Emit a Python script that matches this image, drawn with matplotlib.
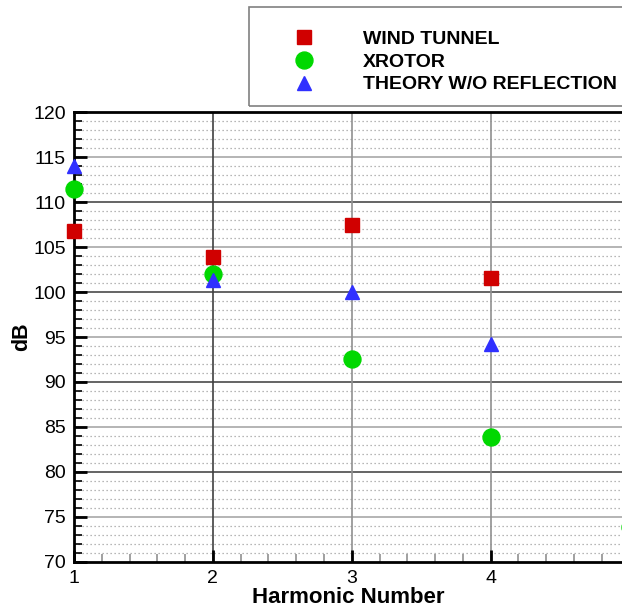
import matplotlib
matplotlib.use("Agg")
import matplotlib.pyplot as plt
from matplotlib.patches import Rectangle
from matplotlib.ticker import MultipleLocator

plt.rcParams["font.family"] = ["Liberation Sans", "DejaVu Sans"]

# ----------------------------------------------------------
# data
# ----------------------------------------------------------
harmonics = [1, 2, 3, 4]
wind_tunnel_db = [106.8, 103.9, 107.5, 101.6]

xrotor_harmonics = [1, 2, 3, 4, 5]
xrotor_db = [111.5, 102.0, 92.5, 83.9, 73.9]

theory_db = [114.0, 101.3, 100.0, 94.2]

series_labels = ["WIND TUNNEL", "XROTOR", "THEORY W/O REFLECTION"]

W, H = 622, 607
fig = plt.figure(figsize=(W / 100, H / 100), dpi=100)

left, bottom, top = 74, 561.7, 112.3
ax = fig.add_axes([left / W, 1 - bottom / H, 1 - left / W, (bottom - top) / H])

ax.set_xlim(1, 1 + (W - left) / 138.9)
ax.set_ylim(70, 120)

# grid
for y in range(71, 120):
    if y % 5:
        ax.axhline(y, color="#a0a0a0", lw=0.9, ls=(0, (1, 2.2)), zorder=1)
for y in range(75, 120, 5):
    ax.axhline(y, color="#4a4a4a" if y % 10 == 0 else "#a8a8a8",
               lw=1.2, zorder=1)
for x in [2, 3, 4]:
    ax.axvline(x, color="#404040" if x == 2 else "#909090", lw=1.2, zorder=1)

# marks
ax.plot(harmonics, wind_tunnel_db, ls="none", marker="s", ms=9.5,
        color="#d00000", mec="#d00000", label=series_labels[0],
        zorder=4, clip_on=False)
ax.plot(xrotor_harmonics, xrotor_db, ls="none", marker="o", ms=12.2,
        color="#00d800", mec="#00d800", label=series_labels[1],
        zorder=3, clip_on=False)
ax.plot(harmonics, theory_db, ls="none", marker="^", ms=10,
        color="#3030ff", mec="#3030ff", label=series_labels[2],
        zorder=5, clip_on=False)

# axes styling
for side in ["left", "bottom", "top"]:
    ax.spines[side].set_linewidth(2)
    ax.spines[side].set_color("black")
ax.spines["right"].set_visible(False)

ax.xaxis.set_major_locator(MultipleLocator(1))
ax.xaxis.set_minor_locator(MultipleLocator(0.2))
ax.yaxis.set_major_locator(MultipleLocator(5))
ax.yaxis.set_minor_locator(MultipleLocator(1))

ax.tick_params(axis="both", which="major", direction="in", length=9,
               width=2, labelsize=14, pad=6, top=False, right=False)
ax.tick_params(axis="y", which="minor", direction="in", length=6,
               width=1.2, right=False)
ax.tick_params(axis="x", which="minor", direction="in", length=6,
               width=1.2, color="#909090", top=False)

ax.set_xlabel("Harmonic Number", fontsize=16, fontweight="bold", labelpad=0)
ax.set_ylabel("dB", fontsize=15.5, fontweight="bold", labelpad=0.5)

# legend
fig.patches.append(Rectangle((249 / W, 1 - 106 / H), 0.7, 99 / H,
                             transform=fig.transFigure, fill=False,
                             edgecolor="#808080", lw=1.2))
fig.legend(loc="upper left", bbox_to_anchor=(267 / W, 1 - 13 / H),
           frameon=False, prop={"weight": "bold", "size": 14},
           handlelength=2, handletextpad=2.03, labelspacing=0.26,
           borderpad=0.4)

fig.savefig("out.png", dpi=100)
